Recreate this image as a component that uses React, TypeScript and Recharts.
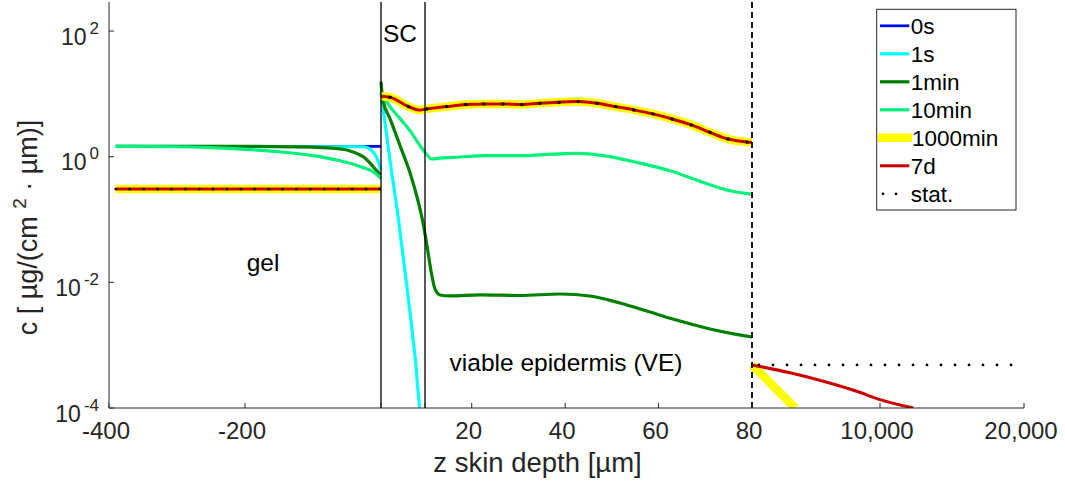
import React from 'react';
import { LineChart, Line, XAxis, YAxis, ReferenceLine } from 'recharts';

const FONT = '"Liberation Sans", Arial, Helvetica, sans-serif';
const INK = '#262626';
const W = 1065;
const H = 485;

// ---------- legend / series meta ----------
const seriesNames = ['0s', '1s', '1min', '10min', '1000min', '7d', 'stat.'];
const seriesColors = ['#0000ff', '#00ffff', '#008000', '#00f07c', '#ffff00', '#cc0000', '#000000'];
const seriesWidths = [2.7, 3.2, 3.2, 3.2, 8.5, 3, 2.8];

// ---------- axes ----------
const xTickZ = [-400, -200, 0, 10, 20, 40, 60, 80, 10000, 20000];
const xTickLabels = ['-400', '-200', '', '', '20', '40', '60', '80', '10,000', '20,000'];
const yTicks = [1e-4, 1e-2, 1, 100];
const yDomain: [number, number] = [1e-4, 290];

// ---------- data (z in µm, c in µg/(cm^2·µm)) ----------
const z_0s = [-390, 0];
const c_0s = [1.46, 1.46];

const z_1s = [-390, -25, -15, -7, 0, 0, 0, 2.05, 3.86, 5.45, 6.82, 7.95, 8.75];
const c_1s = [1.46, 1.44, 1.29, 1.0, 0.62, null, 10.5, 0.863, 0.115, 0.0152, 0.00242, 4.64e-4, 1e-4];

const z_1min = [-390, -200, -120, -60, -40, -25, -15, -7, 0, 0, 0, 0.45, 2.05, 4.32, 6.59, 8.41, 9.55,
  10.43, 11.28, 12.14, 13.21, 15.35, 21.77, 30.34, 38.9, 45.32, 51.74, 58.17, 64.59, 71.01, 76.36, 80];
const c_1min = [1.46, 1.46, 1.43, 1.33, 1.18, 0.98, 0.77, 0.61, 0.516, null, 15.7, 7.82, 4.04, 1.5, 0.556, 0.199, 0.0886,
  0.0381, 0.0152, 0.00785, 0.0063, 0.00607, 0.0063, 0.00618, 0.00653, 0.00607, 0.00469, 0.00337, 0.00242, 0.00181, 0.0015, 0.00135];

const z_10min = [-390, -300, -250, -200, -150, -100, -60, -30, -10, 0, 0, 0, 2.05, 4.32, 6.59, 8.86, 10.21, 11.43,
  13.21, 16.06, 23.21, 30.34, 37.47, 42.48, 48.17, 55.32, 62.45, 69.58, 75.28, 80];
const c_10min = [1.46, 1.44, 1.39, 1.31, 1.2, 1.04, 0.86, 0.69, 0.56, 0.45, null, 10.5, 6.27, 4.04, 2.6, 1.5, 1.12, 0.919,
  0.946, 0.975, 1.04, 1.04, 1.1, 1.13, 1.04, 0.811, 0.598, 0.389, 0.287, 0.254];

// steady profile (1000min, 7d and stationary coincide in gel and skin)
const z_gelSteady = [-390, 0];
const c_gelSteady = [0.305, 0.305];
const z_skinSteady = [0, 2.05, 6.25, 8.86, 10.4, 14.65, 18.7, 22.6, 26.7, 30.7, 34.6, 38.7, 42.8, 46.8, 50.8,
  54.7, 58.8, 62.9, 67.0, 71.0, 74.9, 78.9, 80];
const c_skinSteady = [9.16, 8.83, 6.27, 5.52, 5.77, 6.27, 6.75, 6.93, 6.93, 6.75, 7.08, 7.35, 7.53, 7.08, 6.27,
  5.56, 4.8, 3.99, 3.21, 2.44, 1.91, 1.71, 1.69];

const z_deep1000min = [80, 1731, 3413];
const c_deep1000min = [4.85e-4, 2.23e-4, 1e-4];
const z_deep7d = [80, 3025, 5606, 8194, 10000, 12313];
const c_deep7d = [4.85e-4, 3.63e-4, 2.67e-4, 1.85e-4, 1.36e-4, 1e-4];

const z_statSkin = [2.05, 6.25, 10.4, 14.65, 18.7, 22.6, 26.7, 30.7, 34.6, 38.7, 42.8, 46.8, 50.8, 54.7, 58.8,
  62.9, 67.0, 71.0, 74.9, 78.9];
const c_statSkin = [8.83, 6.27, 5.77, 6.27, 6.75, 6.93, 6.93, 6.75, 7.08, 7.35, 7.53, 7.08, 6.27, 5.56, 4.8,
  3.99, 3.21, 2.44, 1.91, 1.71];
const z_statDeep = [80, 20000];
const c_statDeep = [4.85e-4, 4.85e-4];

// ---------- broken x axis: gel | SC | VE | deep tissue ----------
function toU(z: number): number {
  if (z <= 0) return (z + 400) * 0.68;
  if (z <= 10) return 272 + z * 4.4;
  if (z <= 80) return 316 + (z - 10) * (327 / 70);
  if (z <= 10000) return 643 + (z - 80) * (128 / 9920);
  return 771 + (z - 10000) * (144 / 10000);
}
const U_MAX = toU(20000);

const pts = (z: number[], c: (number | null)[]) => z.map((zz, i) => ({ u: toU(zz), c: c[i] }));

const d0s = pts(z_0s, c_0s);
const d1s = pts(z_1s, c_1s);
const d1min = pts(z_1min, c_1min);
const d10min = pts(z_10min, c_10min);
const d1000min = pts(
  [...z_gelSteady, 0, ...z_skinSteady, 80, ...z_deep1000min],
  [...c_gelSteady, null, ...c_skinSteady, null, ...c_deep1000min]
);
const d7d = pts(
  [...z_gelSteady, 0, ...z_skinSteady, 80, ...z_deep7d],
  [...c_gelSteady, null, ...c_skinSteady, null, ...c_deep7d]
);
const dStatGel = pts(z_gelSteady, c_gelSteady);
const dStatSkin = pts(z_statSkin, c_statSkin);
const dStatDeep = pts(z_statDeep, c_statDeep);

const xTicksU = xTickZ.map(toU);

const BottomTick = (p: any) => {
  const v = p.payload.value;
  const i = xTicksU.findIndex((u) => Math.abs(u - v) < 1e-6);
  const label = i >= 0 ? xTickLabels[i] : '';
  return (
    <g>
      <line x1={p.x} x2={p.x} y1={p.y} y2={p.y - 5} stroke={INK} strokeWidth={1} />
      {label ? (
        <text x={p.x - 3} y={p.y + 31} textAnchor="middle" fontSize={24} fill={INK} fontFamily={FONT}>
          {label}
        </text>
      ) : null}
    </g>
  );
};
const TopTick = (p: any) => (
  <line x1={p.x} x2={p.x} y1={p.y} y2={p.y + 5} stroke={INK} strokeWidth={1} />
);
const LeftTick = (p: any) => {
  const e = Math.round(Math.log10(p.payload.value));
  return (
    <g>
      <line x1={p.x} x2={p.x + 5} y1={p.y} y2={p.y} stroke={INK} strokeWidth={1} />
      <text x={p.x - 10} y={p.y + 13.5} textAnchor="end" fill={INK} fontFamily={FONT}>
        <tspan fontSize={23}>10</tspan>
        <tspan fontSize={17} dx={3} dy={-11}>{String(e)}</tspan>
      </text>
    </g>
  );
};
const RightTick = (p: any) => (
  <line x1={p.x} x2={p.x - 5} y1={p.y} y2={p.y} stroke={INK} strokeWidth={1} />
);

export default function App() {
  const legendTop = 25.8;
  const rowH = 28;
  return (
    <div style={{ position: 'absolute', left: 0, top: 0, width: W, height: H, background: '#fff', fontFamily: FONT }}>
      <LineChart width={W} height={H} margin={{ top: 2, right: 41, bottom: 0, left: 0 }}>
        <XAxis
          xAxisId={0}
          type="number"
          dataKey="u"
          domain={[0, U_MAX]}
          allowDataOverflow
          ticks={xTicksU}
          interval={0}
          height={77}
          tickSize={0}
          tickMargin={0}
          tickLine={false}
          stroke={INK}
          tick={<BottomTick />}
        />
        <XAxis
          xAxisId="top"
          orientation="top"
          type="number"
          dataKey="u"
          domain={[0, U_MAX]}
          allowDataOverflow
          ticks={xTicksU}
          interval={0}
          height={0}
          tickSize={0}
          tickMargin={0}
          tickLine={false}
          stroke={INK}
          tick={<TopTick />}
        />
        <YAxis
          yAxisId={0}
          type="number"
          scale="log"
          domain={yDomain}
          allowDataOverflow
          ticks={yTicks}
          interval={0}
          width={109}
          tickSize={0}
          tickMargin={0}
          tickLine={false}
          stroke={INK}
          tick={<LeftTick />}
        />
        <YAxis
          yAxisId="right"
          orientation="right"
          type="number"
          scale="log"
          domain={yDomain}
          allowDataOverflow
          ticks={yTicks}
          interval={0}
          width={0}
          tickSize={0}
          tickMargin={0}
          tickLine={false}
          stroke={INK}
          tick={<RightTick />}
        />

        <Line data={d0s} dataKey="c" name={seriesNames[0]} stroke={seriesColors[0]} strokeWidth={seriesWidths[0]} dot={false} isAnimationActive={false} type="monotoneX" />
        <Line data={d1s} dataKey="c" name={seriesNames[1]} stroke={seriesColors[1]} strokeWidth={seriesWidths[1]} dot={false} isAnimationActive={false} type="monotoneX" />
        <Line data={d1min} dataKey="c" name={seriesNames[2]} stroke={seriesColors[2]} strokeWidth={seriesWidths[2]} dot={false} isAnimationActive={false} type="monotoneX" />
        <Line data={d10min} dataKey="c" name={seriesNames[3]} stroke={seriesColors[3]} strokeWidth={seriesWidths[3]} dot={false} isAnimationActive={false} type="monotoneX" />
        <Line data={d1000min} dataKey="c" name={seriesNames[4]} stroke={seriesColors[4]} strokeWidth={seriesWidths[4]} dot={false} isAnimationActive={false} type="monotoneX" />
        <Line data={d7d} dataKey="c" name={seriesNames[5]} stroke={seriesColors[5]} strokeWidth={seriesWidths[5]} dot={false} isAnimationActive={false} type="monotoneX" />
        <Line data={dStatGel} dataKey="c" name={seriesNames[6]} stroke="#000" strokeWidth={2.8} strokeDasharray="0 13.9" strokeLinecap="round" dot={false} isAnimationActive={false} />
        <Line data={dStatSkin} dataKey="c" name="stat-skin" stroke="none" dot={{ r: 1.5, fill: '#000', stroke: '#000', strokeWidth: 0.4 }} isAnimationActive={false} />
        <Line data={dStatDeep} dataKey="c" name="stat-deep" stroke="#000" strokeWidth={2.8} strokeDasharray="0 14" strokeDashoffset={7} strokeLinecap="round" dot={false} isAnimationActive={false} />

        <ReferenceLine x={toU(0)} stroke="#000" strokeWidth={1.3} />
        <ReferenceLine x={toU(10)} stroke="#000" strokeWidth={1.3} />
        <ReferenceLine x={toU(80)} stroke="#000" strokeWidth={1.8} strokeDasharray="6 4" />
      </LineChart>

      <svg width={W} height={H} style={{ position: 'absolute', left: 0, top: 0, pointerEvents: 'none' }}>
        {/* region annotations */}
        <text x={263} y={271} textAnchor="middle" fontSize={24.5} fill="#000" fontFamily={FONT}>gel</text>
        <text x={383} y={42} fontSize={24.5} fill="#000" fontFamily={FONT}>SC</text>
        <text x={566} y={371} textAnchor="middle" fontSize={24.5} fill="#000" fontFamily={FONT}>viable epidermis (VE)</text>

        {/* axis titles */}
        <text x={537.5} y={471.5} textAnchor="middle" fontSize={27.5} fill={INK} fontFamily={FONT}>z skin depth [µm]</text>
        <text x={37} y={227.5} transform="rotate(-90, 37, 227.5)" textAnchor="middle" fontSize={27} fill={INK} fontFamily={FONT}>
          <tspan>c [ µg/(cm </tspan>
          <tspan fontSize={19} dy={-11}>2</tspan>
          <tspan dy={11}>{'  · µm)]'}</tspan>
        </text>

        {/* legend */}
        <rect x={876.7} y={9.3} width={139.3} height={200.7} fill="#fff" stroke={INK} strokeWidth={1} />
        {seriesNames.map((name, i) => {
          const cy = legendTop + rowH * i;
          const isStat = i === 6;
          const isThick = i === 4;
          return (
            <g key={name}>
              {isStat ? (
                <line x1={883} x2={909} y1={cy} y2={cy} stroke="#000" strokeWidth={2.8} strokeDasharray="0 13" strokeLinecap="round" />
              ) : (
                <line x1={isThick ? 878 : 880} x2={isThick ? 912 : 909.3} y1={cy} y2={cy} stroke={seriesColors[i]} strokeWidth={seriesWidths[i]} />
              )}
              <text x={isThick ? 912 : 910.7} y={cy + 8} fontSize={22.5} fill="#000" fontFamily={FONT}>{name}</text>
            </g>
          );
        })}
      </svg>
    </div>
  );
}
